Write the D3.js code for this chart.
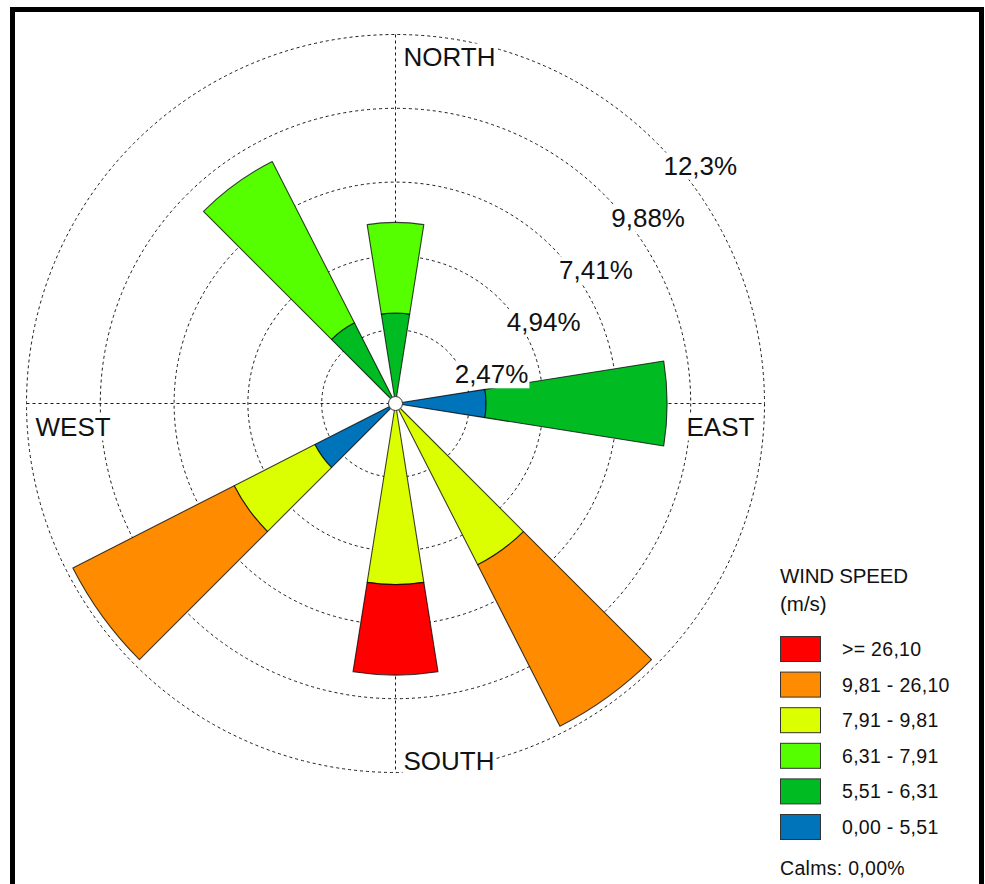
<!DOCTYPE html>
<html>
<head>
<meta charset="utf-8">
<script src="https://cdn.jsdelivr.net/npm/d3@7/dist/d3.min.js"></script>
<style>
  html, body { margin: 0; padding: 0; background: #fff; }
  svg { display: block; font-family: "Liberation Sans", Arial, sans-serif; }
</style>
</head>
<body>
<svg id="chart" width="985" height="884"></svg>
<script>
// Wind directions (bearing in degrees, clockwise from north), 18° sectors
const directions = [0, 90, 144, 180, 234, 324];

// Speed classes, slowest first
const speedBins = ["0,00 - 5,51", "5,51 - 6,31", "6,31 - 7,91", "7,91 - 9,81", "9,81 - 26,10", ">= 26,10"];
const binColors = ["#0074bb", "#00bb22", "#55ff00", "#dcff00", "#ff8c00", "#ff0000"];

// Frequency (%) per speed class, aligned with `directions`
const speed0to551    = [0,    3.03, 0,    0,    3.03, 0   ];
const speed551to631  = [3.03, 6.06, 0,    0,    0,    3.03];
const speed631to791  = [3.03, 0,    0,    0,    0,    6.06];
const speed791to981  = [0,    0,    6.06, 6.06, 3.03, 0   ];
const speed981to2610 = [0,    0,    6.06, 0,    6.06, 0   ];
const speedOver2610  = [0,    0,    0,    3.03, 0,    0   ];

// Rings of the radial axis
const ringValues = [2.47, 4.94, 7.41, 9.88, 12.35];
const ringLabels = ["2,47%", "4,94%", "7,41%", "9,88%", "12,3%"];

const compassLabels = ["NORTH", "EAST", "SOUTH", "WEST"];
const calmsLabel = "Calms: 0,00%";

const series = [speed0to551, speed551to631, speed631to791, speed791to981, speed981to2610, speedOver2610];

const svg = d3.select("#chart");
const cx = 395.5, cy = 403.5;
const r = d3.scaleLinear().domain([0, 12.35]).range([0, 369]);
const halfWidth = 9 * Math.PI / 180;
const rad = d => d * Math.PI / 180;

// Frame
svg.append("rect").attr("x", 12.5).attr("y", 9.5).attr("width", 969).attr("height", 900)
  .attr("fill", "none").attr("stroke", "#000").attr("stroke-width", 5);

const g = svg.append("g").attr("transform", `translate(${cx},${cy})`);

// Grid: dashed rings and the four compass axes
const grid = g.append("g").attr("fill", "none").attr("stroke", "#1a1a1a")
  .attr("stroke-width", 1).attr("stroke-dasharray", "3,3");
grid.selectAll("circle").data(ringValues).join("circle").attr("r", d => r(d));
const rMax = r(ringValues[ringValues.length - 1]);
grid.append("line").attr("x1", -rMax).attr("x2", rMax).attr("y1", 0).attr("y2", 0);
grid.append("line").attr("y1", -rMax).attr("y2", rMax).attr("x1", 0).attr("x2", 0);

// Stacked petals
const stacked = [];
directions.forEach((dir, i) => {
  let acc = 0;
  series.forEach((s, b) => {
    const v = s[i];
    if (v > 0) {
      stacked.push({ dir, bin: b, inner: acc, outer: acc + v });
      acc += v;
    }
  });
});

const arc = d3.arc()
  .innerRadius(d => r(d.inner))
  .outerRadius(d => r(d.outer))
  .startAngle(d => rad(d.dir) - halfWidth)
  .endAngle(d => rad(d.dir) + halfWidth);

g.append("g").selectAll("path").data(stacked).join("path")
  .attr("d", arc)
  .attr("fill", d => binColors[d.bin])
  .attr("stroke", "rgba(0,0,0,0.75)")
  .attr("stroke-width", 1.1)
  .attr("stroke-linejoin", "round");

// Centre hub
g.append("circle").attr("r", 7).attr("fill", "#fff").attr("stroke", "#333").attr("stroke-width", 1);

// Text with a white backing box
function boxedText(parent, x, y, text, size) {
  const grp = parent.append("g");
  const rect = grp.append("rect").attr("fill", "#fff");
  const t = grp.append("text").attr("x", x).attr("y", y)
    .attr("font-size", size).attr("fill", "#111").text(text);
  const bb = t.node().getBBox();
  rect.attr("x", bb.x - 1).attr("y", bb.y + 2).attr("width", bb.width + 2).attr("height", bb.height - 3);
  return grp;
}

// Ring labels, placed along the north-east diagonal
ringValues.forEach((v, i) => {
  const rr = r(v);
  const px = rr * Math.cos(rad(45)), py = -rr * Math.sin(rad(45));
  boxedText(g, px + 7, py + 32, ringLabels[i], 26);
});

// Compass labels
boxedText(g, 8, -rMax + 31, compassLabels[0], 26);
boxedText(g, rMax - 78, 32, compassLabels[1], 26);
boxedText(g, 8, rMax - 3, compassLabels[2], 26);
boxedText(g, -rMax + 9, 32, compassLabels[3], 26);

// Legend
const legend = svg.append("g").attr("transform", "translate(780,0)");
legend.append("text").attr("x", 0).attr("y", 583).attr("font-size", 20.5).attr("fill", "#111")
  .attr("letter-spacing", -0.2).text("WIND SPEED");
legend.append("text").attr("x", 0).attr("y", 611).attr("font-size", 20.5).attr("fill", "#111").text("(m/s)");

const legendOrder = d3.range(speedBins.length).reverse();
const step = 35.6;
const items = legend.selectAll("g.item").data(legendOrder).join("g").attr("class", "item")
  .attr("transform", (d, i) => `translate(0,${636 + i * step})`);
items.append("rect").attr("x", 0.5).attr("y", 0.5).attr("width", 40).attr("height", 25)
  .attr("fill", d => binColors[d]).attr("stroke", "#333").attr("stroke-width", 1);
items.append("text").attr("x", 62).attr("y", 20).attr("font-size", 19.5).attr("fill", "#111")
  .attr("letter-spacing", 0.3).text(d => speedBins[d]);

legend.append("text").attr("x", 0).attr("y", 875).attr("font-size", 19.5).attr("fill", "#111")
  .attr("letter-spacing", 0.3).text(calmsLabel);
</script>
</body>
</html>
